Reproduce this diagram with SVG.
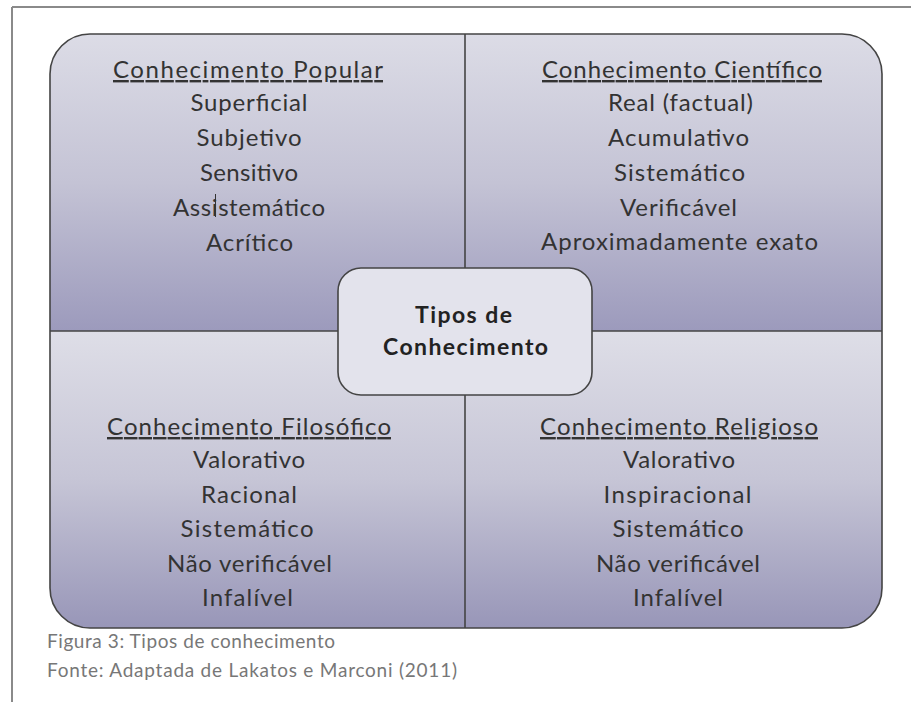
<svg xmlns="http://www.w3.org/2000/svg" width="911" height="702" viewBox="0 0 911 702">
<style>
.t{font-family:Lato,"Liberation Sans",sans-serif;font-size:24px;fill:#333;text-anchor:middle}
.h{text-decoration:underline}
.b{font-family:Lato,"Liberation Sans",sans-serif;font-size:23px;font-weight:bold;fill:#222;text-anchor:middle}
.c{font-family:Lato,"Liberation Sans",sans-serif;font-size:19px;fill:#777}
.ln{stroke:#444;stroke-width:1.6;fill:none}
</style>
<defs>
<linearGradient id="gTop" x1="0" y1="34" x2="0" y2="331" gradientUnits="userSpaceOnUse">
<stop offset="0" stop-color="#dcdce6"/><stop offset="0.5" stop-color="#c4c3d5"/><stop offset="1" stop-color="#9c9abc"/>
</linearGradient>
<linearGradient id="gBot" x1="0" y1="331" x2="0" y2="628" gradientUnits="userSpaceOnUse">
<stop offset="0" stop-color="#dedee7"/><stop offset="0.5" stop-color="#c6c5d6"/><stop offset="1" stop-color="#9896b8"/>
</linearGradient>
<clipPath id="cp"><rect x="50" y="34" width="832" height="594" rx="40" ry="40"/></clipPath>
</defs>
<g id="frame">
<line x1="12" y1="7" x2="911" y2="7" stroke="#8a8a8a" stroke-width="2"/>
<line x1="12" y1="7" x2="12" y2="702" stroke="#8a8a8a" stroke-width="2"/>
</g>
<g id="panel">
<g clip-path="url(#cp)">
<rect x="50" y="34" width="832" height="297" fill="url(#gTop)"/>
<rect x="50" y="331" width="832" height="297" fill="url(#gBot)"/>
</g>
<rect class="ln" x="50" y="34" width="832" height="594" rx="40" ry="40"/>
</g>
<g id="connectors">
<line class="ln" x1="465" y1="34" x2="465" y2="628"/>
<line class="ln" x1="50" y1="331" x2="882" y2="331"/>
</g>
<g id="popular">
<text class="t h" x="248" y="78" textLength="270" lengthAdjust="spacing">Conhecimento Popular</text>
<text class="t" x="249" y="111" textLength="117" lengthAdjust="spacing">Superficial</text>
<text class="t" x="249" y="146" textLength="105" lengthAdjust="spacing">Subjetivo</text>
<text class="t" x="249" y="181" textLength="98" lengthAdjust="spacing">Sensitivo</text>
<text class="t" x="249" y="216" textLength="152" lengthAdjust="spacing">Assistemático</text>
<line x1="215.5" y1="194" x2="215.5" y2="217" stroke="#333" stroke-width="1"/>
<text class="t" x="249.5" y="251" textLength="87" lengthAdjust="spacing">Acrítico</text>
</g>
<g id="cientifico">
<text class="t h" x="682" y="78" textLength="280" lengthAdjust="spacing">Conhecimento Científico</text>
<text class="t" x="680.5" y="111" textLength="145" lengthAdjust="spacing">Real (factual)</text>
<text class="t" x="678.5" y="146" textLength="141" lengthAdjust="spacing">Acumulativo</text>
<text class="t" x="679.5" y="181" textLength="131" lengthAdjust="spacing">Sistemático</text>
<text class="t" x="678.5" y="216" textLength="117" lengthAdjust="spacing">Verificável</text>
<text class="t" x="679.5" y="250" textLength="277" lengthAdjust="spacing">Aproximadamente exato</text>
</g>
<g id="filosofico">
<text class="t h" x="249" y="435" textLength="284" lengthAdjust="spacing">Conhecimento Filosófico</text>
<text class="t" x="249" y="468" textLength="112" lengthAdjust="spacing">Valorativo</text>
<text class="t" x="249" y="503" textLength="96" lengthAdjust="spacing">Racional</text>
<text class="t" x="247" y="537" textLength="133" lengthAdjust="spacing">Sistemático</text>
<text class="t" x="249.5" y="572" textLength="165" lengthAdjust="spacing">Não verificável</text>
<text class="t" x="247.5" y="606" textLength="91" lengthAdjust="spacing">Infalível</text>
</g>
<g id="religioso">
<text class="t h" x="679" y="435" textLength="278" lengthAdjust="spacing">Conhecimento Religioso</text>
<text class="t" x="679" y="468" textLength="112" lengthAdjust="spacing">Valorativo</text>
<text class="t" x="677.5" y="503" textLength="148" lengthAdjust="spacing">Inspiracional</text>
<text class="t" x="678" y="537" textLength="131" lengthAdjust="spacing">Sistemático</text>
<text class="t" x="678" y="572" textLength="164" lengthAdjust="spacing">Não verificável</text>
<text class="t" x="678" y="606" textLength="90" lengthAdjust="spacing">Infalível</text>
</g>
<g id="center">
<rect x="338" y="268" width="254" height="127" rx="23" ry="23" fill="#e3e3ec" stroke="#444" stroke-width="1.6"/>
<text class="b" x="463.5" y="323" textLength="97" lengthAdjust="spacing">Tipos de</text>
<text class="b" x="465.5" y="355" textLength="165" lengthAdjust="spacing">Conhecimento</text>
</g>
<g id="caption">
<text class="c" x="47" y="648" textLength="288" lengthAdjust="spacing">Figura 3: Tipos de conhecimento</text>
<text class="c" x="47" y="677" textLength="410" lengthAdjust="spacing">Fonte: Adaptada de Lakatos e Marconi (2011)</text>
</g>
</svg>
